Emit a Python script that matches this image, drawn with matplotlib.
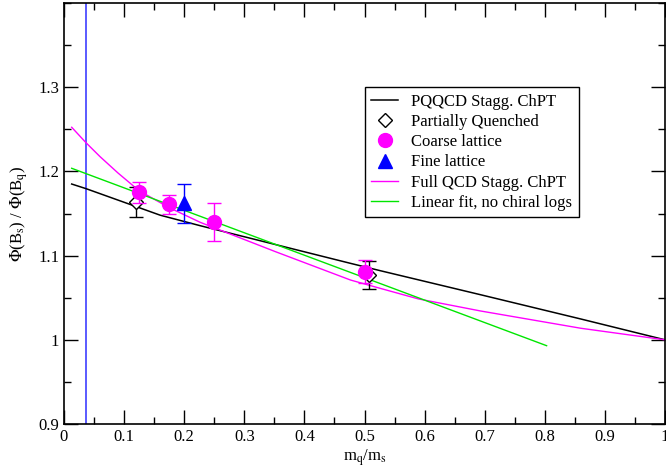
import matplotlib
matplotlib.use("Agg")
import matplotlib.pyplot as plt
from matplotlib.lines import Line2D
from matplotlib.ticker import MultipleLocator, FormatStrFormatter

plt.rcParams['font.family'] = ['Liberation Serif', 'DejaVu Serif']
plt.rcParams['mathtext.fontset'] = 'stix'

# data points
pq_x = [0.12, 0.507]
pq_y = [1.164, 1.077]
pq_err = [0.018, 0.017]

coarse_x = [0.125, 0.175, 0.25, 0.5]
coarse_y = [1.175, 1.161, 1.1395, 1.081]
coarse_err = [0.012, 0.0115, 0.0225, 0.014]

fine_x = [0.2]
fine_y = [1.162]
fine_err = [0.0233]

# curves, sampled by eye
pqqcd_x = [0.0128, 0.0367, 0.16, 0.2267, 0.4767, 0.5267, 0.6933, 0.86, 1.0]
pqqcd_y = [1.185, 1.1795, 1.148, 1.1355, 1.0908, 1.082, 1.0535, 1.0247, 1.0]

full_x = [0.0128, 0.0367, 0.06, 0.09, 0.125, 0.175, 0.2267, 0.3517, 0.4767,
          0.5267, 0.59, 0.6933, 0.86, 1.0]
full_y = [1.2524, 1.234, 1.2175, 1.198, 1.177, 1.157, 1.1395, 1.1047, 1.071,
          1.061, 1.0485, 1.0342, 1.0137, 1.0]

lin_x = [0.0128, 0.803]
lin_y = [1.2037, 0.993]

vline_x = 0.0367

fig = plt.figure(figsize=(6.66, 4.73), dpi=100)
ax = fig.add_axes([64/666, 1 - 424/473, 601/666, 421/473])

ax.axvline(vline_x, color='#5a5aff', lw=1.4, zorder=1)
ax.plot(pqqcd_x, pqqcd_y, color='black', lw=1.1, zorder=2)
ax.plot(full_x, full_y, color='#ff00ff', lw=1.0, zorder=2)
ax.plot(lin_x, lin_y, color='#00e600', lw=1.0, zorder=2)

ax.errorbar(pq_x, pq_y, yerr=pq_err, fmt='D', ms=7, mfc='white', mec='black',
            ecolor='black', elinewidth=1, capsize=5, capthick=1, mew=1, zorder=3)
ax.errorbar(coarse_x, coarse_y, yerr=coarse_err, fmt='o', ms=10, color='#ff00ff',
            ecolor='#ff00ff', elinewidth=1, capsize=5, capthick=1, zorder=4)
ax.errorbar(fine_x, fine_y, yerr=fine_err, fmt='^', ms=9.5, color='#0000ff',
            ecolor='#0000ff', elinewidth=1, capsize=5, capthick=1, zorder=4)

ax.set_xlim(0, 1)
ax.set_ylim(0.9, 1.4)
ax.xaxis.set_major_locator(MultipleLocator(0.1))
ax.xaxis.set_minor_locator(MultipleLocator(0.05))
ax.yaxis.set_major_locator(MultipleLocator(0.1))
ax.yaxis.set_minor_locator(MultipleLocator(0.05))
ax.xaxis.set_major_formatter(FormatStrFormatter('%g'))
ax.yaxis.set_major_formatter(FormatStrFormatter('%g'))
ax.tick_params(which='both', direction='in', top=True, right=True, labelsize=12)
ax.tick_params(which='major', length=10, width=1)
ax.tick_params(which='minor', length=5, width=1)
ax.set_yticks([0.9, 1.0, 1.1, 1.2, 1.3])
for s in ax.spines.values():
    s.set_linewidth(1.2)

ax.set_xlabel(r'm$_{\rm q}$/m$_{\rm s}$', fontsize=12, labelpad=2)
ax.set_ylabel(r'$\Phi$(B$_{\rm s}$) / $\Phi$(B$_{\rm q}$)', fontsize=12, labelpad=6)

handles = [
    Line2D([], [], color='black', lw=1.1),
    Line2D([], [], ls='none', marker='D', ms=7, mfc='white', mec='black'),
    Line2D([], [], ls='none', marker='o', ms=10, color='#ff00ff'),
    Line2D([], [], ls='none', marker='^', ms=9.5, color='#0000ff'),
    Line2D([], [], color='#ff00ff', lw=1.0),
    Line2D([], [], color='#00e600', lw=1.0),
]
labels = ['PQQCD Stagg. ChPT', 'Partially Quenched', 'Coarse lattice',
          'Fine lattice', 'Full QCD Stagg. ChPT', 'Linear fit, no chiral logs']
leg = ax.legend(handles, labels, loc='upper left', bbox_to_anchor=(0.5, 0.8),
                borderaxespad=0, fontsize=12, handlelength=1.6, labelspacing=0.25,
                fancybox=False, framealpha=1, edgecolor='black', borderpad=0.4)
leg.get_frame().set_linewidth(1.0)

fig.savefig('out.png', dpi=100)
